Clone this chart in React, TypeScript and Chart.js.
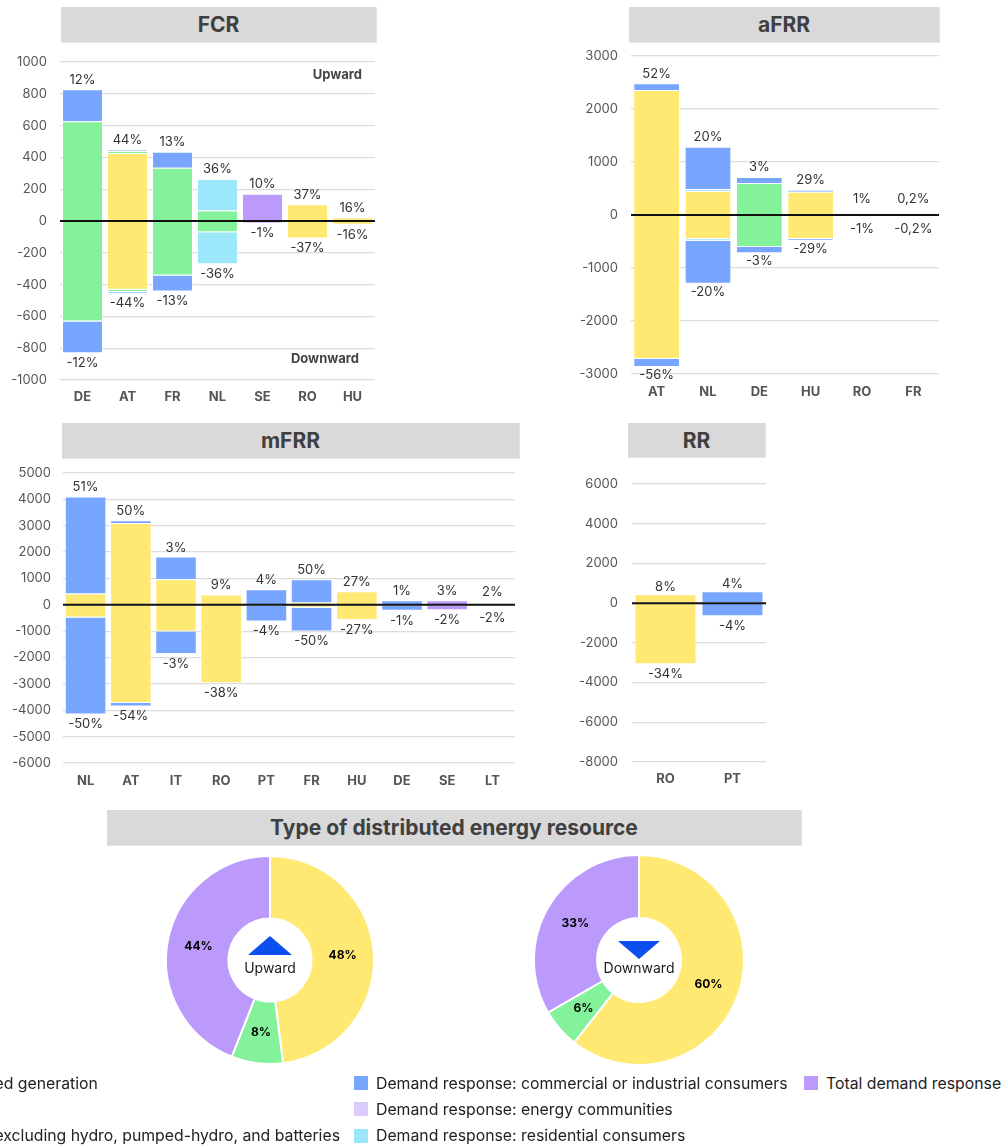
import React, { useEffect, useRef } from 'react';
import { Chart, registerables } from 'chart.js';

Chart.register(...registerables);

const FONT = 'Inter, "Noto Sans", sans-serif';

// ---------- series (legend) ----------
const seriesNames = [
  'Distributed generation',
  'Batteries',
  'Storage excluding hydro, pumped-hydro, and batteries',
  'Demand response: residential consumers',
  'Demand response: commercial or industrial consumers',
  'Demand response: energy communities',
  'Total demand response',
];
const seriesColors = ['#FFE973', '#84F29A', '#F7B267', '#9DE7FB', '#78A6FE', '#DCCBFD', '#BB9AFB'];
const legendColumns = [[0, 1, 2], [4, 5, 3], [6]];

// ---------- FCR ----------
const fcrCategories = ['DE', 'AT', 'FR', 'NL', 'SE', 'RO', 'HU'];
const fcrUpDG = [0, 427, 0, 0, 0, 105, 22];
const fcrDownDG = [0, -433, 0, 0, 0, -110, -24];
const fcrUpBat = [628, 13, 335, 66, 0, 0, 0];
const fcrDownBat = [-632, -13, -343, -70, 0, 0, 0];
const fcrUpRes = [0, 0, 0, 198, 0, 0, 0];
const fcrDownRes = [0, 0, 0, -202, 0, 0, 0];
const fcrUpCom = [200, 6, 100, 0, 0, 0, 0];
const fcrDownCom = [-200, -8, -100, 0, 0, 0, 0];
const fcrUpTot = [0, 0, 0, 0, 172, 0, 0];
const fcrDownTot = [0, 0, 0, 0, -14, 0, 0];
const fcrUpLabels = ['12%', '44%', '13%', '36%', '10%', '37%', '16%'];
const fcrDownLabels = ['-12%', '-44%', '-13%', '-36%', '-1%', '-37%', '-16%'];
const fcrTicks = { min: -1000, max: 1000, step: 200 };

// ---------- aFRR ----------
const afrrCategories = ['AT', 'NL', 'DE', 'HU', 'RO', 'FR'];
const afrrUpDG = [2360, 453, 0, 440, 8, 0];
const afrrDownDG = [-2717, -453, 0, -453, -8, 0];
const afrrUpBat = [0, 0, 604, 0, 0, 0];
const afrrDownBat = [0, 0, -604, 0, 0, 0];
const afrrUpRes = [0, 37, 0, 0, 0, 0];
const afrrDownRes = [0, -31, 0, 0, 0, 0];
const afrrUpCom = [124, 800, 113, 38, 0, 4];
const afrrDownCom = [-151, -812, -119, -31, 0, -4];
const afrrUpLabels = ['52%', '20%', '3%', '29%', '1%', '0,2%'];
const afrrDownLabels = ['-56%', '-20%', '-3%', '-29%', '-1%', '-0,2%'];
const afrrTicks = { min: -3000, max: 3000, step: 1000 };

// ---------- mFRR ----------
const mfrrCategories = ['NL', 'AT', 'IT', 'RO', 'PT', 'FR', 'HU', 'DE', 'SE', 'LT'];
const mfrrUpDG = [429, 3100, 971, 391, 0, 88, 517, 0, 0, 0];
const mfrrDownDG = [-479, -3720, -1009, -2977, 0, -113, -575, 0, 0, 0];
const mfrrUpCom = [3684, 105, 858, 0, 593, 883, 0, 177, 0, 0];
const mfrrDownCom = [-3684, -135, -858, 0, -631, -896, -8, -227, 0, 0];
const mfrrUpTot = [0, 0, 0, 0, 0, 0, 0, 0, 177, 0];
const mfrrDownTot = [0, 0, 0, 0, 0, 0, 0, 0, -202, 0];
const mfrrUpLabels = ['51%', '50%', '3%', '9%', '4%', '50%', '27%', '1%', '3%', '2%'];
const mfrrDownLabels = ['-50%', '-54%', '-3%', '-38%', '-4%', '-50%', '-27%', '-1%', '-2%', '-2%'];
const mfrrTicks = { min: -6000, max: 5000, step: 1000 };

// ---------- RR ----------
const rrCategories = ['RO', 'PT'];
const rrUpDG = [454, 0];
const rrDownDG = [-3076, 0];
const rrUpCom = [0, 605];
const rrDownCom = [0, -655];
const rrUpLabels = ['8%', '4%'];
const rrDownLabels = ['-34%', '-4%'];
const rrTicks = { min: -8000, max: 6000, step: 2000 };

// ---------- DER type pies ----------
const pieCategories = ['Distributed generation', 'Batteries', 'Total demand response'];
const pieSeriesIdx = [0, 1, 6];
const upwardShares = [48, 8, 44];
const upwardLabels = ['48%', '8%', '44%'];
const downwardShares = [60, 6, 33];
const downwardLabels = ['60%', '6%', '33%'];

type SeriesEntry = { s: number; up: number[]; down: number[] };

type BarCfg = {
  categories: string[];
  series: SeriesEntry[];
  upLabels: string[];
  downLabels: string[];
  ticks: { min: number; max: number; step: number };
  box: { x: number; y: number; w: number; h: number };
  plot: { l: number; t: number; r: number; b: number };
  yPad: number;
  xPad: number;
  barPct: number;
  topOff: number;
  botOff: number;
  minGap: number;
  corner?: boolean;
};

const sum = (arrs: number[][], i: number) => arrs.reduce((a, arr) => a + arr[i], 0);

function buildBarConfig(c: BarCfg): any {
  const datasets: any[] = [];
  const mk = (e: SeriesEntry, vals: number[]) => ({
    label: seriesNames[e.s],
    data: vals.map((v) => (v === 0 ? null : v)),
    backgroundColor: seriesColors[e.s],
    borderColor: 'rgba(255,255,255,0.55)',
    borderWidth: 1,
    stack: 's',
  });
  c.series.forEach((e) => datasets.push(mk(e, e.up)));
  c.series.forEach((e) => datasets.push(mk(e, e.down)));
  const upTotals = c.categories.map((_, i) => sum(c.series.map((e) => e.up), i));
  const downTotals = c.categories.map((_, i) => sum(c.series.map((e) => e.down), i));

  const labelPlugin = {
    id: 'stackLabels',
    afterDatasetsDraw(chart: any) {
      const { ctx, chartArea, scales } = chart;
      const xs = scales.x;
      const ys = scales.y;
      const y0 = ys.getPixelForValue(0);
      ctx.save();
      ctx.strokeStyle = '#111';
      ctx.lineWidth = 2;
      ctx.beginPath();
      ctx.moveTo(chartArea.left, y0);
      ctx.lineTo(chartArea.right, y0);
      ctx.stroke();
      ctx.font = `13px ${FONT}`;
      ctx.fillStyle = '#333';
      ctx.textAlign = 'center';
      ctx.textBaseline = 'middle';
      c.categories.forEach((_, i) => {
        const px = xs.getPixelForValue(i);
        const top = Math.min(ys.getPixelForValue(upTotals[i]), y0 - c.minGap);
        const bot = Math.max(ys.getPixelForValue(downTotals[i]), y0 + c.minGap);
        ctx.fillText(c.upLabels[i], px, top - c.topOff);
        ctx.fillText(c.downLabels[i], px, bot + c.botOff);
      });
      if (c.corner) {
        ctx.font = `bold 13px ${FONT}`;
        ctx.fillStyle = '#444';
        ctx.textAlign = 'right';
        ctx.fillText('Upward', chartArea.right - 13, chartArea.top + 13);
        ctx.fillText('Downward', chartArea.right - 16, chartArea.bottom - 21);
      }
      ctx.restore();
    },
  };

  const yWidth = c.plot.l - c.box.x;
  const xHeight = c.box.y + c.box.h - c.plot.b;
  return {
    type: 'bar',
    data: { labels: c.categories, datasets },
    options: {
      responsive: false,
      animation: false,
      layout: { padding: { top: c.plot.t - c.box.y, right: c.box.x + c.box.w - c.plot.r, left: 0, bottom: 0 } },
      datasets: { bar: { barPercentage: c.barPct, categoryPercentage: 1 } },
      plugins: { legend: { display: false }, tooltip: { enabled: false }, title: { display: false } },
      scales: {
        x: {
          stacked: true,
          grid: { display: false, drawTicks: false },
          border: { display: false },
          ticks: { font: { family: FONT, size: 13, weight: 'bold' }, color: '#555', padding: c.xPad },
          afterFit: (s: any) => {
            s.height = xHeight;
            s.paddingLeft = 0;
            s.paddingRight = 0;
          },
        },
        y: {
          stacked: true,
          min: c.ticks.min,
          max: c.ticks.max,
          ticks: {
            stepSize: c.ticks.step,
            font: { family: FONT, size: 13 },
            color: '#555',
            padding: c.yPad,
            callback: (v: any) => String(v),
          },
          grid: { color: '#DCDCDC', lineWidth: 1.2, drawTicks: false },
          border: { display: false },
          afterFit: (s: any) => {
            s.width = yWidth;
            s.paddingTop = 0;
            s.paddingBottom = 0;
          },
        },
      },
    },
    plugins: [labelPlugin],
  };
}

const fcrCfg: BarCfg = {
  categories: fcrCategories,
  series: [
    { s: 0, up: fcrUpDG, down: fcrDownDG },
    { s: 1, up: fcrUpBat, down: fcrDownBat },
    { s: 3, up: fcrUpRes, down: fcrDownRes },
    { s: 4, up: fcrUpCom, down: fcrDownCom },
    { s: 6, up: fcrUpTot, down: fcrDownTot },
  ],
  upLabels: fcrUpLabels,
  downLabels: fcrDownLabels,
  ticks: fcrTicks,
  box: { x: 0, y: 50, w: 385, h: 360 },
  plot: { l: 60, t: 62, r: 375, b: 380 },
  yPad: 13,
  xPad: 9,
  barPct: 0.91,
  topOff: 9.5,
  botOff: 10,
  minGap: 0,
  corner: true,
};

const afrrCfg: BarCfg = {
  categories: afrrCategories,
  series: [
    { s: 0, up: afrrUpDG, down: afrrDownDG },
    { s: 1, up: afrrUpBat, down: afrrDownBat },
    { s: 3, up: afrrUpRes, down: afrrDownRes },
    { s: 4, up: afrrUpCom, down: afrrDownCom },
  ],
  upLabels: afrrUpLabels,
  downLabels: afrrDownLabels,
  ticks: afrrTicks,
  box: { x: 560, y: 45, w: 385, h: 360 },
  plot: { l: 631, t: 56, r: 939, b: 374 },
  yPad: 13,
  xPad: 10,
  barPct: 0.91,
  topOff: 9.5,
  botOff: 8,
  minGap: 6.5,
};

const mfrrCfg: BarCfg = {
  categories: mfrrCategories,
  series: [
    { s: 0, up: mfrrUpDG, down: mfrrDownDG },
    { s: 4, up: mfrrUpCom, down: mfrrDownCom },
    { s: 6, up: mfrrUpTot, down: mfrrDownTot },
  ],
  upLabels: mfrrUpLabels,
  downLabels: mfrrDownLabels,
  ticks: mfrrTicks,
  box: { x: 0, y: 462, w: 530, h: 338 },
  plot: { l: 63, t: 473, r: 515, b: 763 },
  yPad: 12,
  xPad: 10,
  barPct: 0.92,
  topOff: 9,
  botOff: 10,
  minGap: 3.5,
};

const rrCfg: BarCfg = {
  categories: rrCategories,
  series: [
    { s: 0, up: rrUpDG, down: rrDownDG },
    { s: 4, up: rrUpCom, down: rrDownCom },
  ],
  upLabels: rrUpLabels,
  downLabels: rrDownLabels,
  ticks: rrTicks,
  box: { x: 560, y: 470, w: 215, h: 330 },
  plot: { l: 632, t: 484, r: 766, b: 762 },
  yPad: 14,
  xPad: 9,
  barPct: 0.925,
  topOff: 7.5,
  botOff: 10,
  minGap: 0,
};

function BarPanel({ cfg }: { cfg: BarCfg }) {
  const ref = useRef<HTMLCanvasElement>(null);
  useEffect(() => {
    const chart = new Chart(ref.current as HTMLCanvasElement, buildBarConfig(cfg));
    return () => chart.destroy();
  }, []);
  const b = cfg.box;
  return (
    <canvas
      ref={ref}
      width={b.w}
      height={b.h}
      style={{ position: 'absolute', left: b.x, top: b.y, width: b.w, height: b.h }}
    />
  );
}

type PieCfg = {
  shares: number[];
  labels: string[];
  center: string;
  dir: 'up' | 'down';
  cx: number;
  cy: number;
  r: number;
};

function PiePanel({ cfg }: { cfg: PieCfg }) {
  const ref = useRef<HTMLCanvasElement>(null);
  const size = 240;
  useEffect(() => {
    const pieLabelPlugin = {
      id: 'pieLabels',
      afterDraw(chart: any) {
        const { ctx } = chart;
        const meta = chart.getDatasetMeta(0);
        ctx.save();
        ctx.font = `bold 12px ${FONT}`;
        ctx.fillStyle = '#000';
        ctx.textAlign = 'center';
        ctx.textBaseline = 'middle';
        meta.data.forEach((arc: any, i: number) => {
          const p = arc.getCenterPoint();
          ctx.fillText(cfg.labels[i], p.x, p.y);
        });
        const a = meta.data[0];
        const x = a.x;
        const y = a.y;
        ctx.fillStyle = '#0B50EC';
        ctx.beginPath();
        if (cfg.dir === 'up') {
          ctx.moveTo(x, y - 24);
          ctx.lineTo(x + 22, y - 5);
          ctx.lineTo(x - 22, y - 5);
        } else {
          ctx.moveTo(x - 21, y - 19);
          ctx.lineTo(x + 21, y - 19);
          ctx.lineTo(x, y - 1);
        }
        ctx.closePath();
        ctx.fill();
        ctx.font = `14px ${FONT}`;
        ctx.fillStyle = '#1a1a1a';
        ctx.fillText(cfg.center, x, y + 9);
        ctx.restore();
      },
    };
    const chart = new Chart(ref.current as HTMLCanvasElement, {
      type: 'doughnut',
      data: {
        labels: pieCategories,
        datasets: [
          {
            data: cfg.shares,
            backgroundColor: pieSeriesIdx.map((i) => seriesColors[i]),
            borderColor: '#ffffff',
            borderWidth: 2,
          },
        ],
      },
      options: {
        responsive: false,
        animation: false,
        cutout: '40%',
        layout: { padding: size / 2 - cfg.r - 1 },
        plugins: { legend: { display: false }, tooltip: { enabled: false } },
      },
      plugins: [pieLabelPlugin],
    } as any);
    return () => chart.destroy();
  }, []);
  return (
    <canvas
      ref={ref}
      width={size}
      height={size}
      style={{ position: 'absolute', left: cfg.cx - size / 2, top: cfg.cy - size / 2, width: size, height: size }}
    />
  );
}

function TitleBox({ text, x, y, w, h }: { text: string; x: number; y: number; w: number; h: number }) {
  return (
    <div
      style={{
        position: 'absolute',
        left: x,
        top: y,
        width: w,
        height: h,
        background: '#D9D9D9',
        boxSizing: 'border-box',
        borderBottom: '1px solid #E4E4E4',
        borderRight: '1px solid #E4E4E4',
        color: '#404040',
        fontFamily: FONT,
        fontWeight: 700,
        fontSize: 21,
        lineHeight: `${h}px`,
        textAlign: 'center',
      }}
    >
      {text}
    </div>
  );
}

function LegendColumn({ items, style }: { items: number[]; style: React.CSSProperties }) {
  return (
    <div style={{ position: 'absolute', top: 1070, display: 'flex', flexDirection: 'column', ...style }}>
      {items.map((i) => (
        <div key={i} style={{ display: 'flex', alignItems: 'center', height: 26.3, whiteSpace: 'nowrap' }}>
          <span style={{ display: 'inline-block', width: 14, height: 14, background: seriesColors[i], marginRight: 8, flex: 'none' }} />
          <span style={{ fontFamily: FONT, fontSize: 15.8, color: '#222' }}>{seriesNames[i]}</span>
        </div>
      ))}
    </div>
  );
}

export default function App() {
  return (
    <div
      style={{
        position: 'absolute',
        left: 0,
        top: 0,
        width: 1005,
        height: 1146,
        overflow: 'hidden',
        background: '#fff',
      }}
    >
      <TitleBox text="FCR" x={61} y={7} w={316} h={36} />
      <TitleBox text="aFRR" x={629} y={7} w={311} h={36} />
      <TitleBox text="mFRR" x={62} y={423} w={458} h={36} />
      <TitleBox text="RR" x={628} y={423} w={138} h={35} />
      <TitleBox text="Type of distributed energy resource" x={107} y={810} w={695} h={36} />
      <BarPanel cfg={fcrCfg} />
      <BarPanel cfg={afrrCfg} />
      <BarPanel cfg={mfrrCfg} />
      <BarPanel cfg={rrCfg} />
      <PiePanel cfg={{ shares: upwardShares, labels: upwardLabels, center: 'Upward', dir: 'up', cx: 270, cy: 960, r: 104 }} />
      <PiePanel cfg={{ shares: downwardShares, labels: downwardLabels, center: 'Downward', dir: 'down', cx: 639, cy: 960, r: 105 }} />
      <LegendColumn items={legendColumns[0]} style={{ right: 1005 - 340 }} />
      <LegendColumn items={legendColumns[1]} style={{ left: 354 }} />
      <LegendColumn items={legendColumns[2]} style={{ left: 804 }} />
    </div>
  );
}
